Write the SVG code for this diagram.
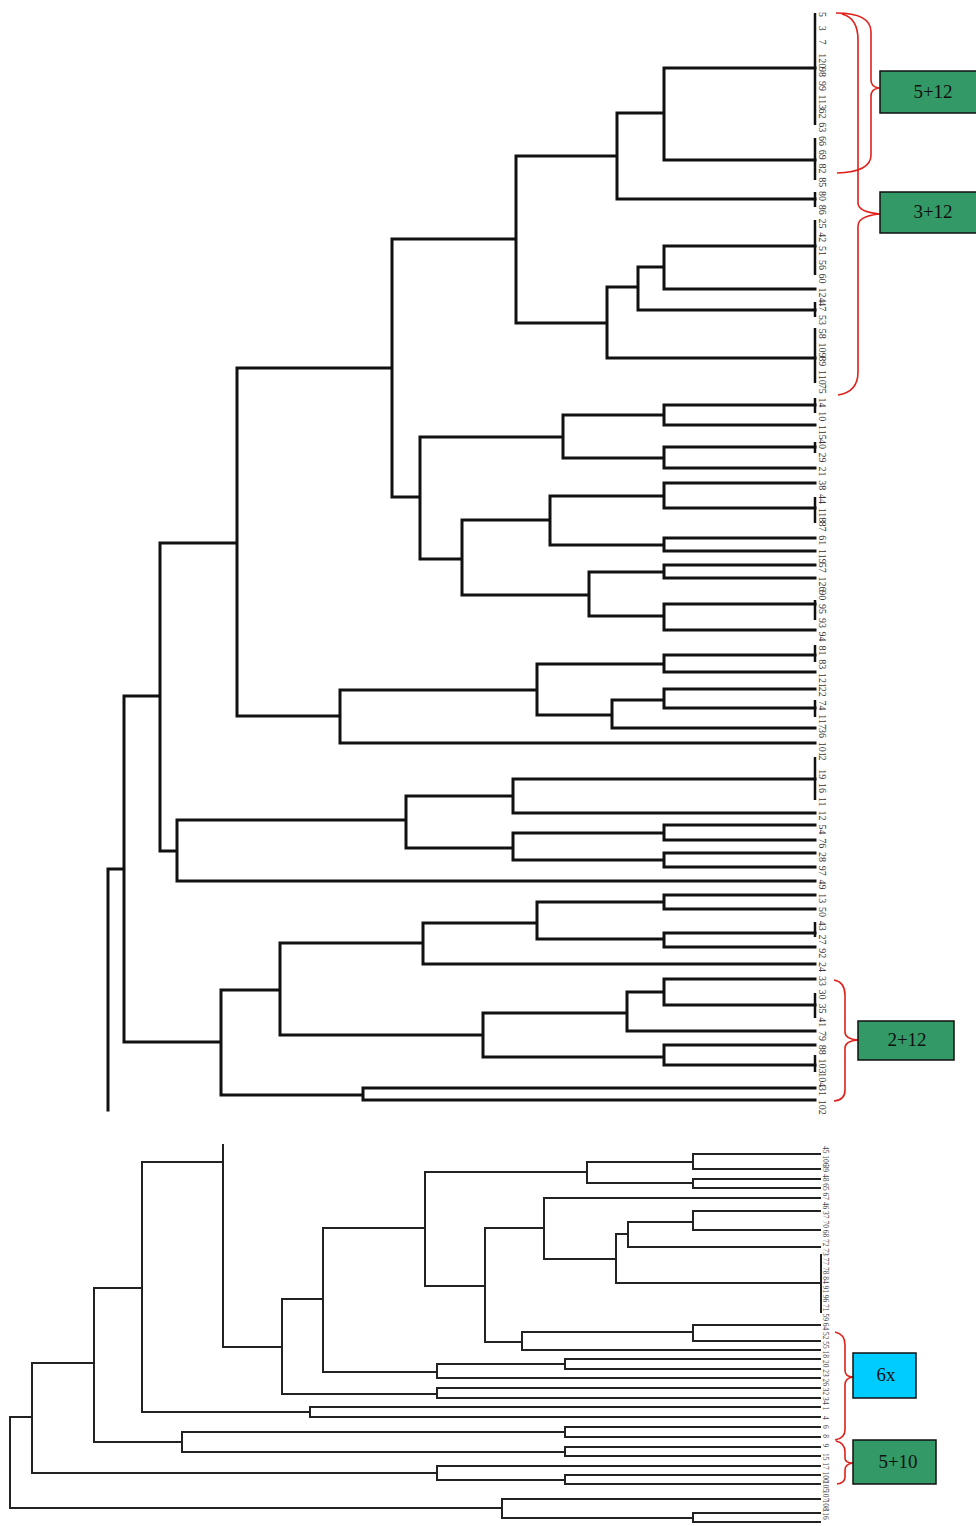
<svg xmlns="http://www.w3.org/2000/svg" width="976" height="1526" viewBox="0 0 976 1526">
<style>
.t1{fill:none;stroke:#111;stroke-width:3;stroke-linejoin:miter;stroke-linecap:square}
.t2{fill:none;stroke:#222;stroke-width:2;stroke-linejoin:miter;stroke-linecap:square}
.bar{fill:none;stroke:#111;stroke-width:2.5}
.br{fill:none;stroke:#e0201a;stroke-width:1.6;stroke-linejoin:round}
.lb{font-family:"Liberation Serif",serif;font-size:10px;fill:#333}
.lb2{font-family:"Liberation Serif",serif;font-size:7.5px;fill:#444}
.bx{stroke:#111;stroke-width:1.5}
.bt{font-family:"Liberation Serif",serif;font-size:19px;fill:#111;text-anchor:middle;dominant-baseline:central}
</style>
<rect width="976" height="1526" fill="#ffffff"/>
<g id="connectors">
<g id="tree-top">
<path class="t1" d="M108,1110 V869 H124 M160,696 H124 V1042 H221 M237,543 H160 V851 H177 M392,368 H237 V716 H340 M516,239 H392 V497 H420 M617,156 H516 V323 H607 M664,113 H617 V199 H815 M815,68 H664 V160 H815 M638,287 H607 V358 H815 M664,267 H638 V310 H815 M815,246 H664 V289 H815 M563,437 H420 V559 H462 M664,415 H563 V458 H664 M815,405 H664 V425 H815 M815,447 H664 V468 H815 M550,520 H462 V595 H589 M664,496 H550 V545 H664 M815,483 H664 V508 H815 M815,538 H664 V551 H815 M664,572 H589 V616 H664 M815,565 H664 V578 H815 M815,604 H664 V630 H815 M537,690 H340 V743 H815 M664,664 H537 V715 H612 M815,655 H664 V672 H815 M664,700 H612 V728 H815 M815,689 H664 V708 H815 M406,820 H177 V881 H815 M513,796 H406 V848 H513 M815,779 H513 V813 H815 M664,833 H513 V860 H664 M815,825 H664 V840 H815 M815,853 H664 V867 H815 M280,990 H221 V1095 H363 M423,943 H280 V1035 H483 M537,923 H423 V964 H815 M664,902 H537 V939 H664 M815,895 H664 V909 H815 M815,933 H664 V947 H815 M627,1013 H483 V1057 H664 M664,992 H627 V1031 H815 M815,979 H664 V1005 H815 M815,1045 H664 V1065 H815 M815,1088 H363 V1100 H815"/>
<path class="bar" d="M815,13 V125 M815,138 V180 M815,192 V207 M815,220 V275 M815,302 V317 M815,328 V383 M815,398 V413 M815,442 V453 M815,497 V523 M815,600 V620 M815,645 V662 M815,700 V717 M815,757 V800 M815,922 V937 M815,993 V1018 M815,1055 V1072"/>
</g>
<g id="tree-bottom">
<path class="t2" d="M502,1508 H10 V1417 H32 M94,1363 H32 V1473 H437 M142,1288 H94 V1442 H182 M223,1162 H142 V1412 H310 M223,1145 V1347 H282 M323,1299 H282 V1394 H437 M425,1228 H323 V1372 H437 M587,1172 H425 V1286 H485 M693,1162 H587 V1183 H693 M820,1154 H693 V1169 H820 M820,1179 H693 V1188 H820 M544,1228 H485 V1342 H522 M820,1198 H544 V1259 H616 M628,1234 H616 V1283 H820 M693,1222 H628 V1247 H820 M820,1211 H693 V1230 H820 M693,1332 H522 V1350 H820 M820,1325 H693 V1341 H820 M565,1364 H437 V1378 H820 M820,1359 H565 V1369 H820 M820,1388 H437 V1398 H820 M820,1407 H310 V1417 H820 M565,1432 H182 V1452 H565 M820,1427 H565 V1437 H820 M820,1447 H565 V1456 H820 M820,1466 H437 V1480 H565 M820,1475 H565 V1484 H820 M820,1499 H502 V1518 H693 M820,1513 H693 V1522 H820"/>
<path class="t2" d="M821,1255 V1312"/>
</g>
<g id="brackets">
<path class="br" d="M836,13 Q871,13 871,32 V80 Q871,87 879,88 Q871,89 871,96 V155 Q871,172 837,173"/>
<path class="br" d="M842,14 Q858,18 858,40 V203 Q858,212 880,214 Q858,216 858,226 V372 Q858,392 838,395"/>
<path class="br" d="M834,980 Q845,982 845,995 V1032 Q845,1039 858,1040 Q845,1041 845,1048 V1090 Q845,1100 834,1101"/>
<path class="br" d="M835,1332 Q845,1334 845,1345 V1370 Q845,1377 853,1377 Q845,1378 845,1385 V1430 Q845,1438 835,1440"/>
<path class="br" d="M836,1441 Q845,1443 845,1452 V1458 Q845,1463 853,1463 Q845,1464 845,1470 V1477 Q845,1483 837,1484"/>
</g>
</g>
<g id="labels-top" class="lb">
<text transform="translate(819,12) rotate(90)">5</text>
<text transform="translate(819,25.8) rotate(90)">3</text>
<text transform="translate(819,39.5) rotate(90)">7</text>
<text transform="translate(819,53.3) rotate(90)">120</text>
<text transform="translate(819,67.1) rotate(90)">98</text>
<text transform="translate(819,80.9) rotate(90)">99</text>
<text transform="translate(819,94.6) rotate(90)">113</text>
<text transform="translate(819,108.4) rotate(90)">62</text>
<text transform="translate(819,122.2) rotate(90)">63</text>
<text transform="translate(819,135.9) rotate(90)">66</text>
<text transform="translate(819,149.7) rotate(90)">69</text>
<text transform="translate(819,163.5) rotate(90)">82</text>
<text transform="translate(819,177.2) rotate(90)">85</text>
<text transform="translate(819,191) rotate(90)">80</text>
<text transform="translate(819,204.8) rotate(90)">86</text>
<text transform="translate(819,218.5) rotate(90)">25</text>
<text transform="translate(819,232.3) rotate(90)">42</text>
<text transform="translate(819,246.1) rotate(90)">51</text>
<text transform="translate(819,259.9) rotate(90)">56</text>
<text transform="translate(819,273.6) rotate(90)">60</text>
<text transform="translate(819,287.4) rotate(90)">124</text>
<text transform="translate(819,301.2) rotate(90)">47</text>
<text transform="translate(819,314.9) rotate(90)">53</text>
<text transform="translate(819,328.7) rotate(90)">58</text>
<text transform="translate(819,342.5) rotate(90)">109</text>
<text transform="translate(819,356.2) rotate(90)">89</text>
<text transform="translate(819,370) rotate(90)">110</text>
<text transform="translate(819,383.8) rotate(90)">75</text>
<text transform="translate(819,397.6) rotate(90)">14</text>
<text transform="translate(819,411.3) rotate(90)">10</text>
<text transform="translate(819,425.1) rotate(90)">115</text>
<text transform="translate(819,438.9) rotate(90)">40</text>
<text transform="translate(819,452.6) rotate(90)">29</text>
<text transform="translate(819,466.4) rotate(90)">21</text>
<text transform="translate(819,480.2) rotate(90)">38</text>
<text transform="translate(819,493.9) rotate(90)">44</text>
<text transform="translate(819,507.7) rotate(90)">118</text>
<text transform="translate(819,521.5) rotate(90)">87</text>
<text transform="translate(819,535.2) rotate(90)">61</text>
<text transform="translate(819,549) rotate(90)">119</text>
<text transform="translate(819,562.8) rotate(90)">57</text>
<text transform="translate(819,576.6) rotate(90)">126</text>
<text transform="translate(819,590.3) rotate(90)">90</text>
<text transform="translate(819,604.1) rotate(90)">95</text>
<text transform="translate(819,617.9) rotate(90)">93</text>
<text transform="translate(819,631.6) rotate(90)">94</text>
<text transform="translate(819,645.4) rotate(90)">81</text>
<text transform="translate(819,659.2) rotate(90)">83</text>
<text transform="translate(819,672.9) rotate(90)">121</text>
<text transform="translate(819,686.7) rotate(90)">22</text>
<text transform="translate(819,700.5) rotate(90)">74</text>
<text transform="translate(819,714.3) rotate(90)">117</text>
<text transform="translate(819,728) rotate(90)">36</text>
<text transform="translate(819,741.8) rotate(90)">101</text>
<text transform="translate(819,755.6) rotate(90)">2</text>
<text transform="translate(819,769.3) rotate(90)">19</text>
<text transform="translate(819,783.1) rotate(90)">16</text>
<text transform="translate(819,796.9) rotate(90)">11</text>
<text transform="translate(819,810.6) rotate(90)">12</text>
<text transform="translate(819,824.4) rotate(90)">54</text>
<text transform="translate(819,838.2) rotate(90)">76</text>
<text transform="translate(819,851.9) rotate(90)">28</text>
<text transform="translate(819,865.7) rotate(90)">97</text>
<text transform="translate(819,879.5) rotate(90)">49</text>
<text transform="translate(819,893.3) rotate(90)">13</text>
<text transform="translate(819,907) rotate(90)">50</text>
<text transform="translate(819,920.8) rotate(90)">43</text>
<text transform="translate(819,934.6) rotate(90)">27</text>
<text transform="translate(819,948.3) rotate(90)">92</text>
<text transform="translate(819,962.1) rotate(90)">24</text>
<text transform="translate(819,975.9) rotate(90)">33</text>
<text transform="translate(819,989.6) rotate(90)">30</text>
<text transform="translate(819,1003.4) rotate(90)">35</text>
<text transform="translate(819,1017.2) rotate(90)">41</text>
<text transform="translate(819,1031) rotate(90)">79</text>
<text transform="translate(819,1044.7) rotate(90)">88</text>
<text transform="translate(819,1058.5) rotate(90)">103</text>
<text transform="translate(819,1072.3) rotate(90)">104</text>
<text transform="translate(819,1086) rotate(90)">31</text>
<text transform="translate(819,1099.8) rotate(90)">102</text>
</g>
<g id="labels-bottom" class="lb2">
<text transform="translate(823,1146) rotate(90)">45</text>
<text transform="translate(823,1155.3) rotate(90)">106</text>
<text transform="translate(823,1164.6) rotate(90)">39</text>
<text transform="translate(823,1173.9) rotate(90)">48</text>
<text transform="translate(823,1183.2) rotate(90)">65</text>
<text transform="translate(823,1192.5) rotate(90)">67</text>
<text transform="translate(823,1201.8) rotate(90)">46</text>
<text transform="translate(823,1211.1) rotate(90)">37</text>
<text transform="translate(823,1220.4) rotate(90)">70</text>
<text transform="translate(823,1229.7) rotate(90)">68</text>
<text transform="translate(823,1239) rotate(90)">72</text>
<text transform="translate(823,1248.3) rotate(90)">73</text>
<text transform="translate(823,1257.6) rotate(90)">77</text>
<text transform="translate(823,1266.9) rotate(90)">78</text>
<text transform="translate(823,1276.2) rotate(90)">84</text>
<text transform="translate(823,1285.5) rotate(90)">91</text>
<text transform="translate(823,1294.8) rotate(90)">96</text>
<text transform="translate(823,1304.1) rotate(90)">71</text>
<text transform="translate(823,1313.4) rotate(90)">59</text>
<text transform="translate(823,1322.7) rotate(90)">64</text>
<text transform="translate(823,1332) rotate(90)">52</text>
<text transform="translate(823,1341.3) rotate(90)">55</text>
<text transform="translate(823,1350.6) rotate(90)">18</text>
<text transform="translate(823,1359.9) rotate(90)">20</text>
<text transform="translate(823,1369.2) rotate(90)">23</text>
<text transform="translate(823,1378.5) rotate(90)">26</text>
<text transform="translate(823,1387.8) rotate(90)">32</text>
<text transform="translate(823,1397.1) rotate(90)">34</text>
<text transform="translate(823,1406.4) rotate(90)">1</text>
<text transform="translate(823,1415.7) rotate(90)">4</text>
<text transform="translate(823,1425) rotate(90)">6</text>
<text transform="translate(823,1434.3) rotate(90)">8</text>
<text transform="translate(823,1443.6) rotate(90)">9</text>
<text transform="translate(823,1452.9) rotate(90)">15</text>
<text transform="translate(823,1462.2) rotate(90)">17</text>
<text transform="translate(823,1471.5) rotate(90)">100</text>
<text transform="translate(823,1480.8) rotate(90)">105</text>
<text transform="translate(823,1490.1) rotate(90)">107</text>
<text transform="translate(823,1499.4) rotate(90)">108</text>
<text transform="translate(823,1508.7) rotate(90)">116</text>
</g>
<g id="box-5-12">
<rect class="bx" x="880" y="71" width="100" height="42" fill="#339966"/>
<text class="bt" x="933" y="91">5+12</text>
</g>
<g id="box-3-12">
<rect class="bx" x="880" y="192" width="100" height="41" fill="#339966"/>
<text class="bt" x="933" y="211">3+12</text>
</g>
<g id="box-2-12">
<rect class="bx" x="858" y="1021" width="96" height="39" fill="#339966"/>
<text class="bt" x="907" y="1039">2+12</text>
</g>
<g id="box-6x">
<rect class="bx" x="853" y="1353" width="63" height="45" fill="#00ccff"/>
<text class="bt" x="886" y="1374">6x</text>
</g>
<g id="box-5-10">
<rect class="bx" x="853" y="1440" width="83" height="44" fill="#339966"/>
<text class="bt" x="898" y="1461">5+10</text>
</g>
</svg>
